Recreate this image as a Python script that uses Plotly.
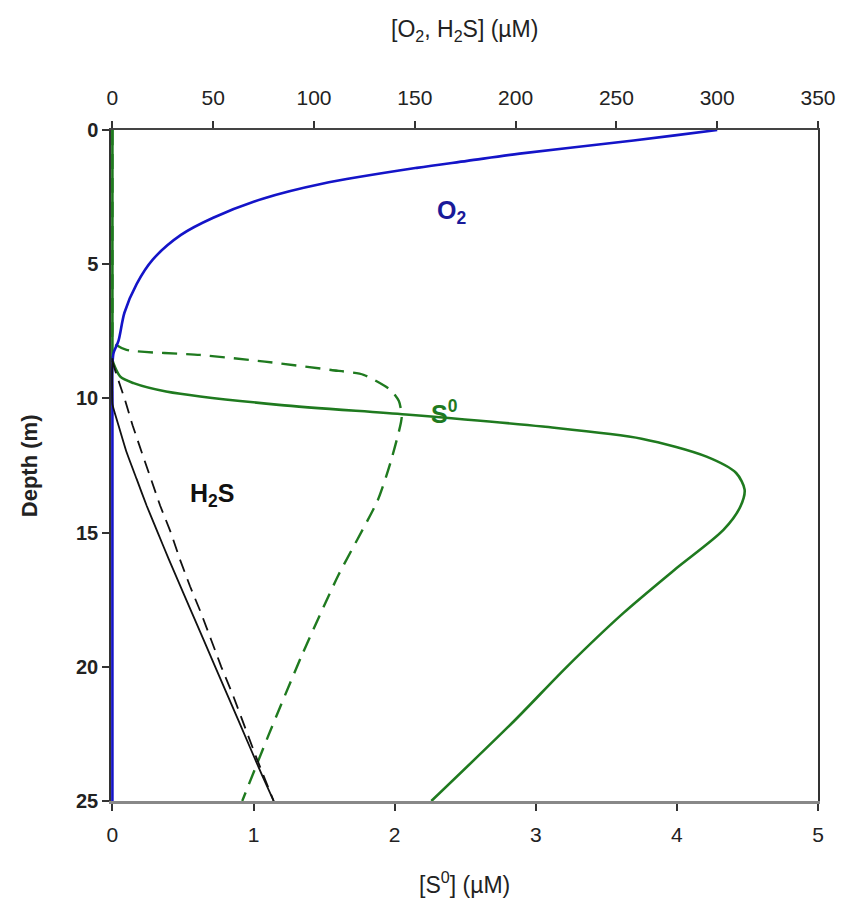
import plotly.graph_objects as go

# Depth profiles (m) and concentrations
o2_depth = [0, 0.2, 0.45, 0.88, 1.15, 1.41, 2.0, 2.55, 3.27, 3.91, 4.83, 5.74,
            6.8, 7.86, 8.3, 8.8, 10, 25]
o2_conc = [300, 279, 252, 202, 176, 151, 104, 75, 50, 34, 20, 12,
           6, 3, 0.6, 0, 0, 0]                                                    # µM

h2s_depth = [8.5, 10.2, 10.5, 11, 12, 13, 14, 15, 16, 18, 20, 22, 24, 25]
h2s_conc = [0, 0, 1, 3, 7, 12, 17, 22.5, 28, 39.5, 51, 62.5, 74, 80]             # µM

h2s_alt_depth = [8.6, 9, 10, 11, 12, 13, 14, 15, 16, 17, 18, 19, 20, 21, 22, 23, 23.4, 25]
h2s_alt_conc = [0, 1.5, 6, 10, 14.5, 19, 23.7, 29, 33.5, 38.5, 44, 49, 54, 59.5, 64.5, 69.5, 71.5, 80]

s0_depth = [0, 2, 4, 6, 8, 8.4, 8.57, 9.19, 9.43, 9.74, 10.24, 10.6, 11.05, 11.5, 12.17,
            12.78, 13.4, 14.03, 14.9, 16.4, 18, 20, 22, 25]
s0_conc = [0, 0, 0, 0, 0, 0, 0, 0.056, 0.15, 0.38, 1.18, 2.08, 3.05, 3.75, 4.21,
           4.42, 4.48, 4.45, 4.33, 3.98, 3.62, 3.22, 2.85, 2.26]                  # µM

s0_alt_depth = [0, 2, 4, 6, 7.5, 7.9, 8.19, 8.38, 8.63, 8.94, 9.12, 9.68, 10.1, 10.7,
                12.4, 13.8, 16.6, 19.6, 22.5, 25]
s0_alt_conc = [0, 0, 0, 0, 0, 0, 0.1, 0.62, 1.08, 1.55, 1.78, 1.97, 2.03, 2.05,
               1.97, 1.88, 1.6, 1.34, 1.11, 0.92]

s0_ticks = [0, 1, 2, 3, 4, 5]
top_ticks = [0, 50, 100, 150, 200, 250, 300, 350]
depth_ticks = [0, 5, 10, 15, 20, 25]

# a hair of padding left of zero so profiles sitting at 0 are not clipped by the frame
S0_RANGE = [-0.01, 5]
TOP_RANGE = [-0.7, 350]

BLUE = "#1414c8"
GREEN = "#1f7a1f"
BLACK = "#111111"
NARROW = "Liberation Sans Narrow, Arial Narrow, Liberation Sans, sans-serif"
BOLD = "Liberation Sans, Arial, sans-serif"

fig = go.Figure()

fig.add_trace(go.Scatter(x=o2_conc, y=o2_depth, xaxis="x2", mode="lines",
                         line=dict(color=BLUE, width=2.6, shape="spline", smoothing=0.9),
                         name="O2"))
fig.add_trace(go.Scatter(x=s0_alt_conc, y=s0_alt_depth, mode="lines",
                         line=dict(color=GREEN, width=2.4, dash="15px,9px",
                                   shape="spline", smoothing=0.6),
                         name="S0 (alt)"))
fig.add_trace(go.Scatter(x=s0_conc, y=s0_depth, mode="lines",
                         line=dict(color=GREEN, width=2.6, shape="spline", smoothing=0.8),
                         name="S0"))
fig.add_trace(go.Scatter(x=h2s_alt_conc, y=h2s_alt_depth, xaxis="x2", mode="lines",
                         line=dict(color=BLACK, width=1.8, dash="13px,8px"), name="H2S (alt)"))
fig.add_trace(go.Scatter(x=h2s_conc, y=h2s_depth, xaxis="x2", mode="lines",
                         line=dict(color=BLACK, width=1.8, shape="spline", smoothing=0.5),
                         name="H2S"))

fig.update_layout(
    width=848, height=913,
    margin=dict(l=111, r=22, t=130, b=112),
    paper_bgcolor="white", plot_bgcolor="white",
    showlegend=False,
    xaxis=dict(range=S0_RANGE, tickvals=s0_ticks, showgrid=False, zeroline=False,
               showline=True, linecolor="#888888", linewidth=3, layer="below traces",
               ticks="outside", ticklen=7, tickcolor="#333333", tickwidth=1.5,
               ticklabelstandoff=6,
               tickfont=dict(family=NARROW, size=21, color="#222222")),
    xaxis2=dict(range=TOP_RANGE, tickvals=top_ticks, overlaying="x", side="top",
                showgrid=False, zeroline=False, layer="below traces",
                showline=True, linecolor="#444444", linewidth=2,
                ticks="outside", ticklen=7, tickcolor="#333333", tickwidth=1.5,
                ticklabelstandoff=8,
                tickfont=dict(family=NARROW, size=21, color="#222222")),
    yaxis=dict(range=[25, 0], tickvals=depth_ticks, showgrid=False, zeroline=False,
               showline=True, mirror=True, linecolor="#333333", linewidth=1.5,
               layer="below traces",
               ticks="outside", ticklen=7, tickcolor="#333333", tickwidth=1.5,
               tickfont=dict(family=BOLD, size=20, color="#222222", weight="bold")),
    annotations=[
        dict(text="[O<sub>2</sub>, H<sub>2</sub>S] (µM)", xref="paper", yref="paper",
             x=0.5, y=1.149, xanchor="center", yanchor="middle", showarrow=False,
             font=dict(family=NARROW, size=23, color="#222222")),
        dict(text="[S<sup>0</sup>] (µM)", xref="paper", yref="paper",
             x=0.5, y=-0.122, xanchor="center", yanchor="middle", showarrow=False,
             font=dict(family=NARROW, size=23, color="#222222")),
        dict(text="Depth (m)", xref="paper", yref="paper", textangle=-90,
             x=-0.115, y=0.5, xanchor="center", yanchor="middle", showarrow=False,
             font=dict(family=BOLD, size=22, color="#222222", weight="bold")),
        dict(text="O<sub>2</sub>", xref="x2", yref="y", x=168, y=3.05,
             xanchor="center", yanchor="middle", showarrow=False,
             font=dict(family=BOLD, size=25, color="#1a1a99", weight="bold")),
        dict(text="S<sup>0</sup>", xref="x", yref="y", x=2.35, y=10.5,
             xanchor="center", yanchor="middle", showarrow=False,
             font=dict(family=BOLD, size=25, color=GREEN, weight="bold")),
        dict(text="H<sub>2</sub>S", xref="x2", yref="y", x=49.5, y=13.6,
             xanchor="center", yanchor="middle", showarrow=False,
             font=dict(family=BOLD, size=25, color=BLACK, weight="bold")),
    ],
)

fig.write_html("out.html")
